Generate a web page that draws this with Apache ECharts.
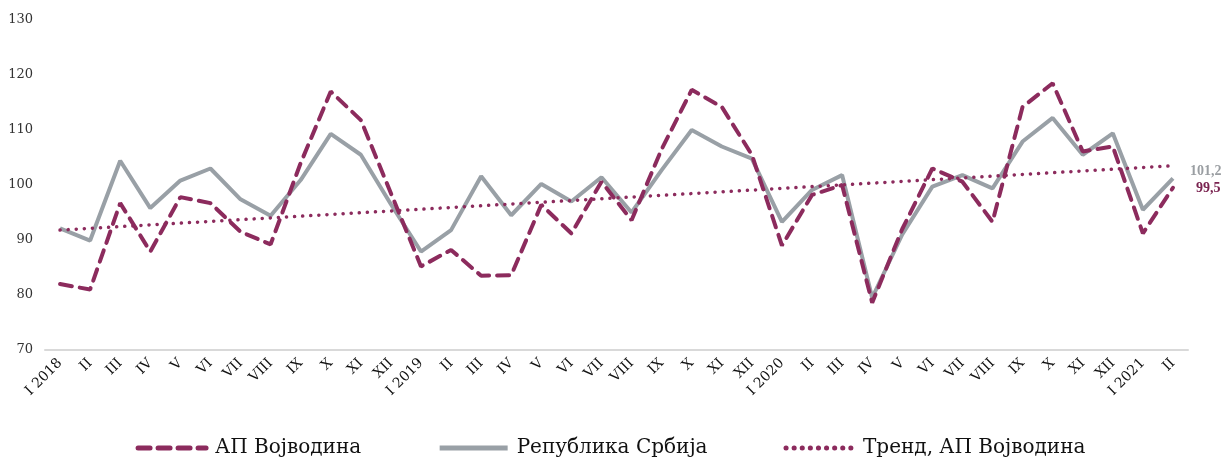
<!DOCTYPE html>
<html>
<head>
<meta charset="utf-8">
<script src="https://cdn.jsdelivr.net/npm/echarts@6/dist/echarts.min.js"></script>
<style>
  html, body { margin: 0; padding: 0; background: #fff; }
  #chart { width: 1221px; height: 459px; }
</style>
</head>
<body>
<div id="chart"></div>
<script>
const categories = [
  'I 2018', 'II', 'III', 'IV', 'V', 'VI', 'VII', 'VIII', 'IX', 'X', 'XI', 'XII',
  'I 2019', 'II', 'III', 'IV', 'V', 'VI', 'VII', 'VIII', 'IX', 'X', 'XI', 'XII',
  'I 2020', 'II', 'III', 'IV', 'V', 'VI', 'VII', 'VIII', 'IX', 'X', 'XI', 'XII',
  'I 2021', 'II'
];
const vojvodina = [
  82.0, 81.0, 96.7, 87.9, 97.8, 96.7, 91.5, 89.2, 104.0, 117.0, 111.8, 98.5,
  85.2, 88.2, 83.5, 83.6, 96.4, 91.2, 100.6, 93.6, 106.5, 117.3, 114.2, 105.5,
  89.0, 98.2, 100.0, 78.6, 92.0, 103.0, 100.6, 93.3, 114.2, 118.5, 106.1, 107.0,
  91.2, 99.5
];
const srbija = [
  92.1, 89.9, 104.4, 95.8, 100.8, 103.0, 97.4, 94.4, 100.9, 109.3, 105.5, 96.5,
  87.9, 91.8, 101.6, 94.5, 100.2, 97.0, 101.4, 95.0, 102.7, 110.0, 107.0, 104.8,
  93.3, 99.1, 101.8, 79.5, 91.0, 99.7, 101.8, 99.4, 107.9, 112.2, 105.5, 109.4,
  95.5, 101.2
];
// trend line: only the two ends, joined straight
const trendEnds = [91.8, 103.5];
const yTicks = [70, 80, 90, 100, 110, 120, 130];

const purple = '#8c2b5d';
const gray = '#99a0a6';
const font = 'DejaVu Serif';

const trend = categories.map((c, i) =>
  i === 0 ? trendEnds[0] : (i === categories.length - 1 ? trendEnds[1] : null));

const endLabel = (color, distance, offsetY) => ({
  show: true,
  distance: distance,
  offset: [0, offsetY],
  formatter: p => String(p.value).replace('.', ','),
  color: color,
  fontFamily: 'Liberation Serif',
  fontWeight: 'bold',
  fontSize: 14
});

const chart = echarts.init(document.getElementById('chart'));
chart.setOption({
  animation: false,
  textStyle: { fontFamily: font },
  grid: { left: 45, right: 33, top: 20, bottom: 109 },
  legend: {
    top: 433,
    left: 'center',
    itemWidth: 68,
    itemHeight: 10,
    itemGap: 76,
    itemStyle: { opacity: 0 },
    lineStyle: { width: 5 },
    textStyle: { fontFamily: font, fontSize: 20, color: '#111', padding: [0, 0, 0, 4] },
    data: ['АП Војводина', 'Република Србија', 'Тренд, АП Војводина']
  },
  xAxis: {
    type: 'category',
    boundaryGap: true,
    data: categories,
    axisLine: { lineStyle: { color: '#d9d9d9', width: 2 } },
    axisTick: { show: false },
    axisLabel: {
      interval: 0,
      rotate: 45,
      color: '#111',
      fontFamily: font,
      fontSize: 14,
      margin: 11
    }
  },
  yAxis: {
    type: 'value',
    min: yTicks[0],
    max: yTicks[yTicks.length - 1],
    interval: 10,
    splitLine: { show: false },
    axisLine: { show: false },
    axisTick: { show: false },
    axisLabel: { color: '#333', fontFamily: font, fontSize: 13, margin: 12 }
  },
  series: [
    {
      name: 'АП Војводина',
      type: 'line',
      symbol: 'none',
      z: 3,
      lineStyle: { color: purple, width: 4, type: [12, 8], cap: 'round' },
      itemStyle: { color: purple },
      endLabel: endLabel('#7a2350', 23, 1),
      data: vojvodina
    },
    {
      name: 'Република Србија',
      type: 'line',
      symbol: 'none',
      z: 2,
      lineStyle: { color: gray, width: 4 },
      itemStyle: { color: gray },
      endLabel: endLabel('#9a9ea2', 17, -7),
      data: srbija
    },
    {
      name: 'Тренд, АП Војводина',
      type: 'line',
      symbol: 'none',
      connectNulls: true,
      z: 4,
      lineStyle: { color: purple, width: 3.5, type: [0.1, 8], cap: 'round' },
      itemStyle: { color: purple },
      data: trend
    }
  ]
});
</script>
</body>
</html>
